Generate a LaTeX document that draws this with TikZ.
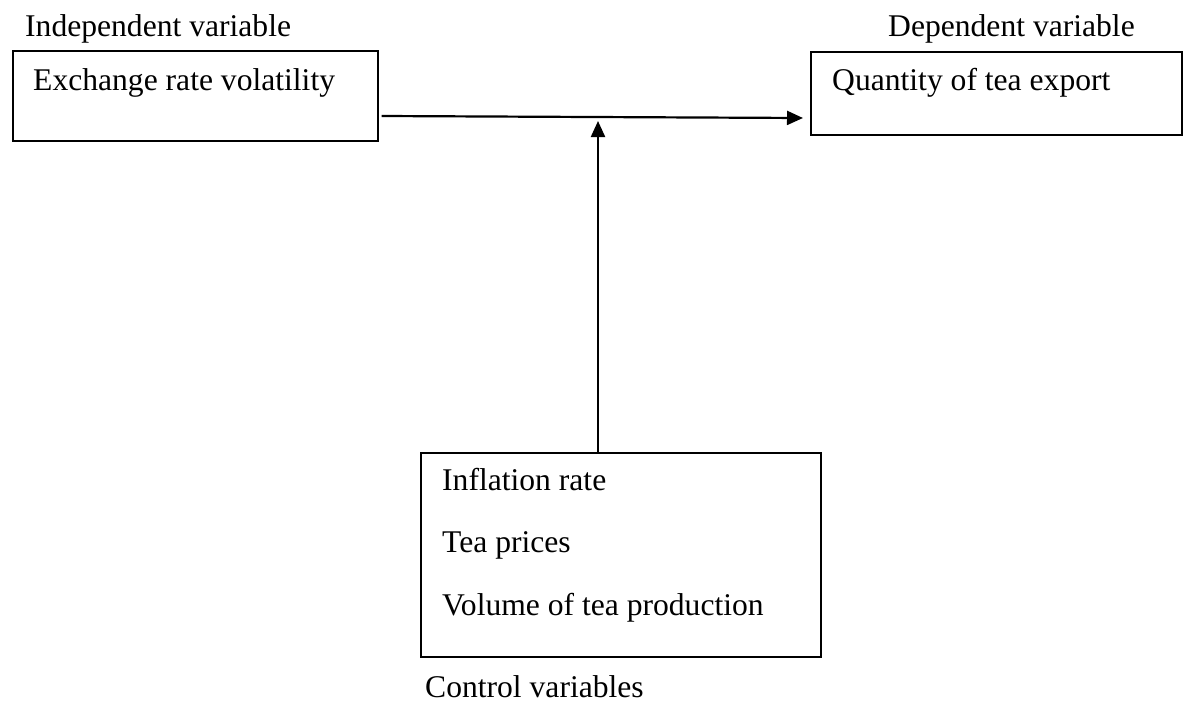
\documentclass[tikz,border=0pt]{standalone}
\usepackage{fontspec}
\setmainfont{Liberation Serif}
\usetikzlibrary{arrows.meta}
\begin{document}
\begin{tikzpicture}[x=1pt,y=-1pt,
  boxnode/.style={draw=black, line width=1.6pt, anchor=north west, inner sep=0pt},
  lbl/.style={anchor=base west, inner sep=0pt, font=\fontsize{31.6}{38}\selectfont},
  arr/.style={line width=2.2pt, -{Triangle[length=16pt,width=14pt]}}]
\useasboundingbox (0,0) rectangle (1183,704);
% boxes
\node[boxnode, minimum width=365pt, minimum height=90pt] (ind) at (12,50) {};
\node[boxnode, minimum width=371pt, minimum height=83pt] (dep) at (810,51) {};
\node[boxnode, minimum width=400pt, minimum height=204pt] (ctl) at (420,452) {};
% texts
\node[lbl] (tind) at (25,36) {Independent variable};
\node[lbl] (tdep) at (888,36) {Dependent variable};
\node[lbl] (tex) at (33,90) {Exchange rate volatility};
\node[lbl] (tqt) at (832,90) {Quantity of tea export};
\node[lbl] (tinf) at (442,490) {Inflation rate};
\node[lbl] (ttea) at (442,552) {Tea prices};
\node[lbl] (tvol) at (442,615) {Volume of tea production};
\node[lbl] (tctl) at (425,697) {Control variables};
% connectors
\coordinate (hs) at ([xshift=3pt]ind.east |- 0,116);
\coordinate (he) at ([xshift=-7pt]dep.west |- 0,118);
\draw[arr] (hs) -- (he);
\coordinate (vs) at (ctl.north -| 598,0);
\coordinate (ve) at (598,121);
\draw[arr] (vs) -- (ve);
\end{tikzpicture}
\end{document}
